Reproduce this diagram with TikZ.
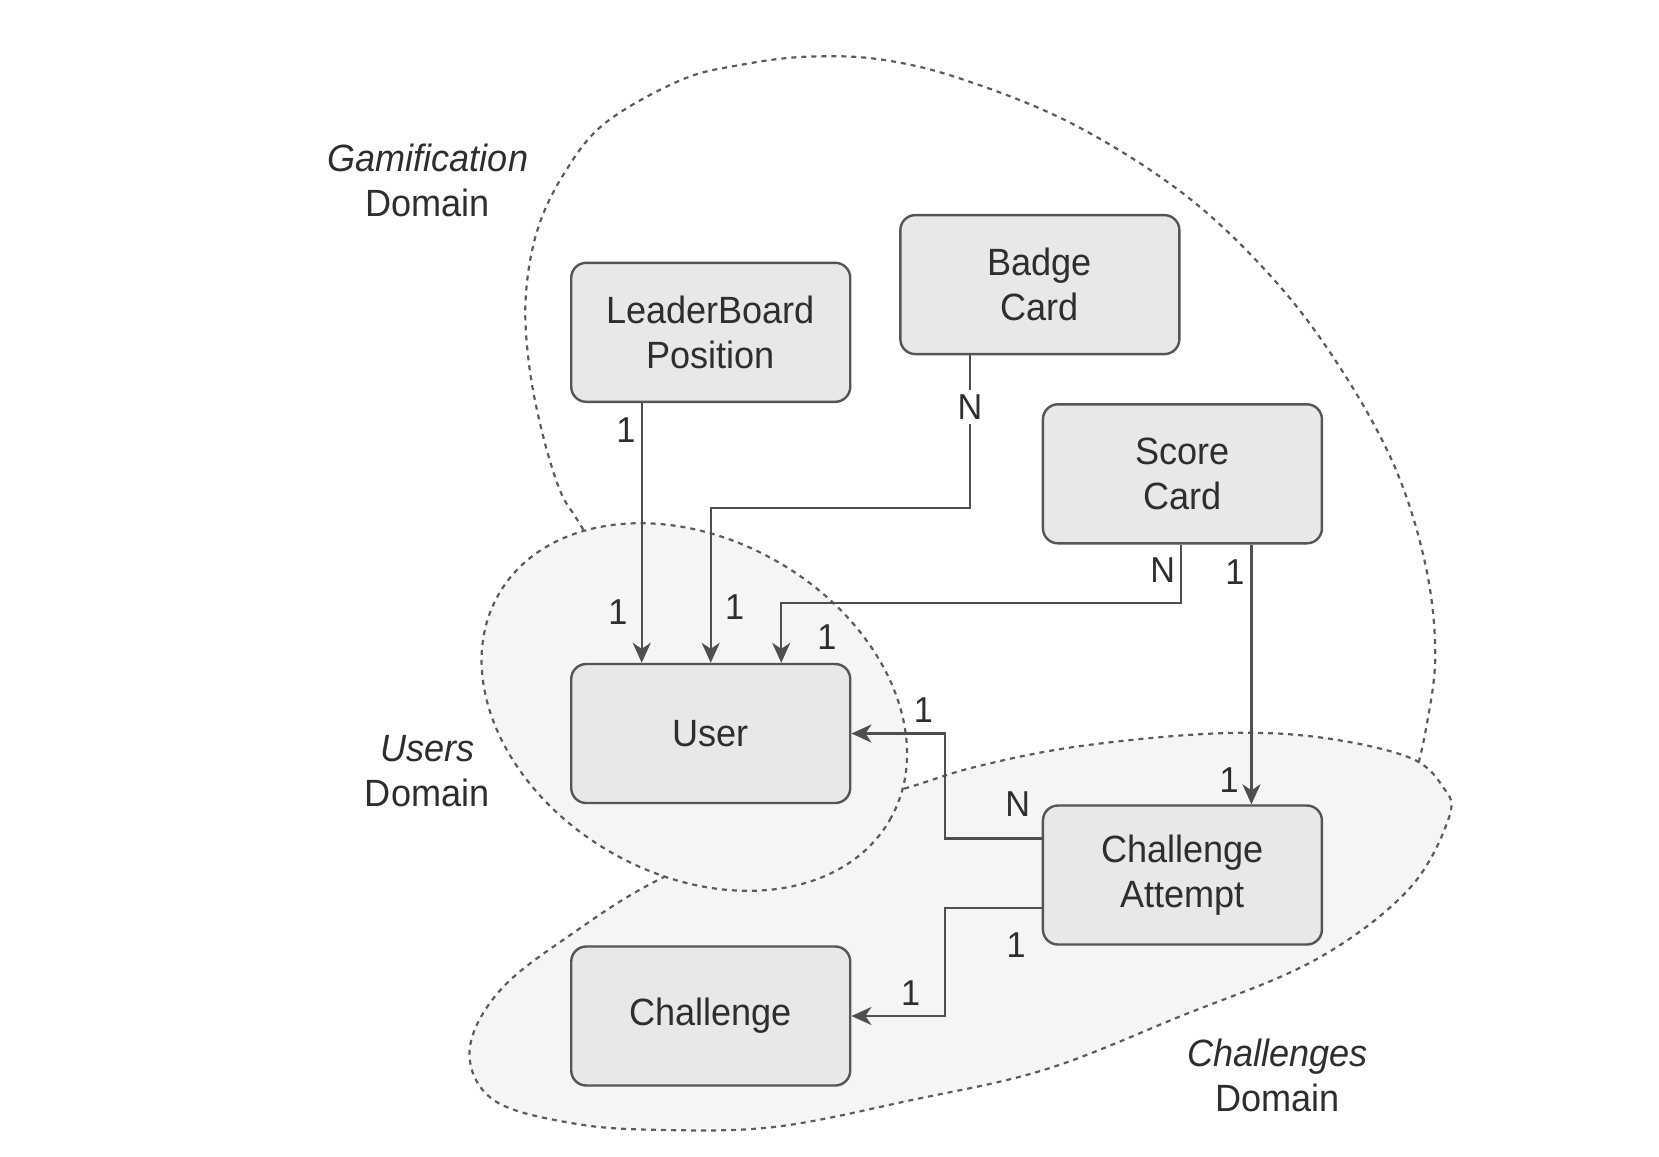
\documentclass[tikz,border=0pt]{standalone}
\usepackage{fontspec}
\setmainfont{Liberation Sans}[FakeStretch=0.95]
\usetikzlibrary{arrows.meta,calc}
\definecolor{boxfill}{HTML}{E8E8E8}
\definecolor{boxline}{HTML}{555555}
\definecolor{domfill}{HTML}{F5F5F5}
\definecolor{domline}{HTML}{5C5C5C}
\definecolor{connc}{HTML}{4F4F4F}
\definecolor{txt}{HTML}{2E2E2E}
\begin{document}
\begin{tikzpicture}[x=1.06pt,y=1.06pt,
  box/.style={draw=boxline, fill=boxfill, line width=2.4pt, rounded corners=15pt,
    minimum width=279pt, minimum height=139pt, align=center, text=txt,
    font=\fontsize{38}{45}\selectfont},
  conn/.style={draw=connc, line width=2.3pt, -{Stealth[length=20pt,width=18pt,inset=6pt]}},
  lbl/.style={font=\fontsize{36}{40}\selectfont, text=txt, inner sep=2pt},
  dom/.style={draw=domline, dash pattern=on 5pt off 5pt, line width=2.2pt},
  domlbl/.style={font=\fontsize{38}{45}\selectfont, text=txt, align=center}]
\useasboundingbox (0,0) rectangle (1565.1,-1090.6);

% Gamification domain (open curve, ends hidden under other domains)
\draw[dom] plot[smooth, tension=0.6] coordinates {
  (575,-540) (545,-491) (528,-462) (511,-406) (499,-343) (496,-280) (507,-217)
  (532.6,-163) (571,-116) (642.5,-75.5) (700,-61) (761,-53.5) (830,-56) (907,-74.5)
  (1012,-117) (1118,-184) (1202,-264) (1265,-348) (1316,-441) (1345,-534)
  (1354,-618) (1345,-689) (1333,-740)};

% Challenges domain
\draw[dom, fill=domfill] plot[smooth cycle, tension=0.6] coordinates {
  (760,-770) (853,-744) (922,-723) (1018,-704) (1145,-692) (1240,-695) (1328,-714)
  (1361,-742) (1367,-771) (1328,-840) (1240,-906) (1113,-959) (986,-1009)
  (859,-1038) (732,-1063) (625,-1066) (542,-1060) (466,-1038) (443,-991)
  (472,-934) (541,-880) (625,-828)};

% Users domain
\draw[dom, fill=domfill, rotate around={-30:(655,-667)}] (655,-667) ellipse [x radius=213, y radius=158];

% Domain labels
\node[domlbl] (gdom) at (403.6,-170.5) {\textit{Gamification}\\Domain};
\node[domlbl] (udom) at (403,-727) {\textit{Users}\\Domain};
\node[domlbl] (cdom) at (1205,-1015) {\textit{Challenges}\\Domain};

% Boxes
\node[box] (lb) at (670.5,-313.5) {LeaderBoard\\Position};
\node[box] (badge) at (981,-268.5) {Badge\\Card};
\node[box] (score) at (1115.5,-447) {Score\\Card};
\node[box] (user) at (670.5,-692) {User};
\node[box] (ca) at (1115.5,-825.5) {Challenge\\Attempt};
\node[box] (ch) at (670.5,-958.5) {Challenge};

% Connectors
\draw[conn] ([xshift=-69pt]lb.south) -- ([xshift=-69pt]user.north);
\draw[conn] ([xshift=-70pt]badge.south) -- ++(0,-144) -| (user.north);
\draw[conn] ([xshift=-1.5pt]score.south) -- ++(0,-55) -| ([xshift=70.5pt]user.north);
\draw[conn] ([xshift=69pt]score.south) -- ([xshift=69pt]ca.north);
\draw[conn] ([yshift=36.5pt]ca.west) -- ++(-91,0) |- (user.east);
\draw[conn] ([yshift=-33pt]ca.west) -- ++(-91,0) |- (ch.east);

% Multiplicity labels
\node[lbl] (l1) at (590.5,-406) {1};
\node[lbl] (l2) at (583,-577) {1};
\node[lbl, fill=white, inner sep=5pt] (l3) at (915,-384) {N};
\node[lbl] (l4) at (693,-572.5) {1};
\node[lbl] (l5) at (1097,-538) {N};
\node[lbl] (l6) at (780,-601) {1};
\node[lbl] (l7) at (1165,-540) {1};
\node[lbl] (l8) at (1159.5,-736) {1};
\node[lbl] (l9) at (871,-670) {1};
\node[lbl] (l10) at (960,-759) {N};
\node[lbl] (l11) at (958.5,-891.5) {1};
\node[lbl] (l12) at (859,-937) {1};
\end{tikzpicture}
\end{document}
